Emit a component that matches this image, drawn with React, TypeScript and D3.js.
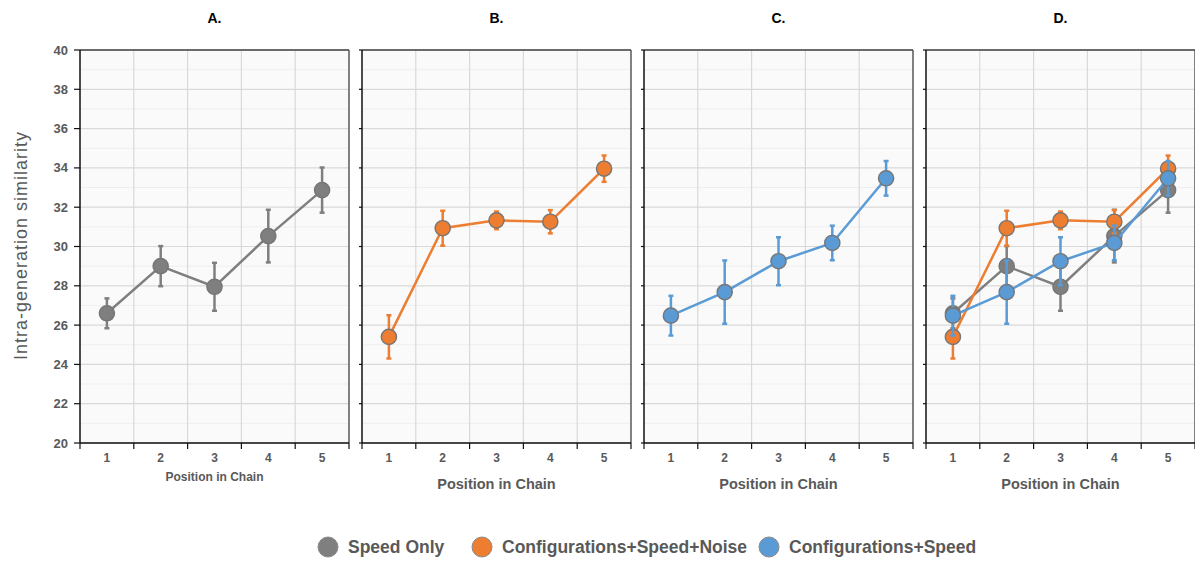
import React from "react";
import * as d3 from "d3";

const categories = ["1", "2", "3", "4", "5"];
const yTicks = [20, 22, 24, 26, 28, 30, 32, 34, 36, 38, 40];
const panelTitles = ["A.", "B.", "C.", "D."];

const speedOnly = [26.6, 29.0, 27.95, 30.53, 32.87];
const speedOnlyErr = [0.76, 1.02, 1.22, 1.34, 1.15];
const configSpeedNoise = [25.4, 30.93, 31.33, 31.26, 33.96];
const configSpeedNoiseErr = [1.1, 0.89, 0.45, 0.59, 0.67];
const configSpeed = [26.48, 27.68, 29.25, 30.18, 33.47];
const configSpeedErr = [1.01, 1.61, 1.22, 0.88, 0.88];

const seriesNames = ["Speed Only", "Configurations+Speed+Noise", "Configurations+Speed"];
const seriesColors = ["#7f7f7f", "#ed7d31", "#5b9bd5"];

const series = [
  { name: seriesNames[0], color: seriesColors[0], values: speedOnly, err: speedOnlyErr },
  { name: seriesNames[1], color: seriesColors[1], values: configSpeedNoise, err: configSpeedNoiseErr },
  { name: seriesNames[2], color: seriesColors[2], values: configSpeed, err: configSpeedErr },
];

const panelSeries = [[0], [1], [2], [0, 1, 2]];

const W = 1195;
const H = 563;
const panelLefts = [80, 362, 644, 926];
const panelW = 269;
const top = 50;
const bottom = 443;
const font = "'Liberation Sans', Arial, sans-serif";
const textGray = "#595959";

function Panel({ idx }: { idx: number }) {
  const x0 = panelLefts[idx];
  const x = d3.scaleBand<string>().domain(categories).range([x0, x0 + panelW]);
  const y = d3.scaleLinear().domain([20, 40]).range([bottom, top]);
  const minorTicks = d3.range(21, 40, 2);
  const bw = x.bandwidth();
  const cx = (c: string) => (x(c) as number) + bw / 2;
  const isA = idx === 0;
  return (
    <g>
      <rect x={x0} y={top} width={panelW} height={bottom - top} fill="#fafafa" />
      {minorTicks.map((t) => (
        <line key={"mn" + t} x1={x0} x2={x0 + panelW} y1={y(t)} y2={y(t)} stroke="#eeeeee" strokeWidth={1} />
      ))}
      {yTicks.map((t) => (
        <line key={"mj" + t} x1={x0} x2={x0 + panelW} y1={y(t)} y2={y(t)} stroke="#d9d9d9" strokeWidth={1.2} />
      ))}
      {categories.slice(1).map((c) => (
        <line key={"v" + c} x1={x(c)} x2={x(c)} y1={top} y2={bottom} stroke="#d9d9d9" strokeWidth={1.2} />
      ))}
      <line x1={x0} x2={x0 + panelW} y1={top} y2={top} stroke="#404040" strokeWidth={1.3} />
      <line x1={x0 + panelW} x2={x0 + panelW} y1={top} y2={bottom} stroke="#404040" strokeWidth={1.3} />
      <line x1={x0} x2={x0} y1={top} y2={bottom} stroke="#111" strokeWidth={1.5} />
      <line x1={x0} x2={x0 + panelW} y1={bottom} y2={bottom} stroke="#111" strokeWidth={1.5} />
      {categories.map((c) => (
        <line key={"xt" + c} x1={x(c)} x2={x(c)} y1={bottom} y2={bottom + 6} stroke="#111" strokeWidth={1.2} />
      ))}
      <line x1={x0 + panelW} x2={x0 + panelW} y1={bottom} y2={bottom + 6} stroke="#111" strokeWidth={1.2} />
      {categories.map((c) => (
        <text key={"xl" + c} x={cx(c)} y={462} textAnchor="middle" fontFamily={font} fontWeight="bold" fontSize={12} fill={textGray}>
          {c}
        </text>
      ))}
      <text x={x0 + panelW / 2} y={isA ? 481 : 489} textAnchor="middle" fontFamily={font} fontWeight="bold" fontSize={isA ? 12 : 14.5} fill={textGray}>
        Position in Chain
      </text>
      {yTicks.map((t) => (
        <line key={"yt" + t} x1={x0 - (isA ? 6 : 3)} x2={x0} y1={y(t)} y2={y(t)} stroke="#111" strokeWidth={1.2} />
      ))}
      {isA &&
        yTicks.map((t) => (
          <text key={"yl" + t} x={68} y={y(t) + 4.5} textAnchor="end" fontFamily={font} fontWeight="bold" fontSize={13} fill={textGray}>
            {t}
          </text>
        ))}
      <text x={x0 + panelW / 2} y={23} textAnchor="middle" fontFamily={font} fontWeight="bold" fontSize={14} fill="#000">
        {panelTitles[idx]}
      </text>
      {panelSeries[idx].map((si) => {
        const s = series[si];
        const line = d3
          .line<number>()
          .x((_, i) => cx(categories[i]))
          .y((v) => y(v));
        return (
          <g key={"s" + si}>
            <path d={line(s.values) || ""} fill="none" stroke={s.color} strokeWidth={2.5} />
            {s.values.map((v, i) => {
              const px = cx(categories[i]);
              const yt = y(v + s.err[i]);
              const yb = y(v - s.err[i]);
              return (
                <g key={"e" + i}>
                  <line x1={px} x2={px} y1={yt} y2={yb} stroke={s.color} strokeWidth={2.5} />
                  <line x1={px - 2.5} x2={px + 2.5} y1={yt} y2={yt} stroke={s.color} strokeWidth={2.5} />
                  <line x1={px - 2.5} x2={px + 2.5} y1={yb} y2={yb} stroke={s.color} strokeWidth={2.5} />
                </g>
              );
            })}
            {s.values.map((v, i) => (
              <circle key={"c" + i} cx={cx(categories[i])} cy={y(v)} r={7.6} fill={s.color} stroke="#767676" strokeWidth={1.4} />
            ))}
          </g>
        );
      })}
    </g>
  );
}

export default function App() {
  const legendX = [328, 482, 769];
  return (
    <svg width={W} height={H} style={{ position: "absolute", left: 0, top: 0, background: "#fff" }}>
      <rect x={0} y={0} width={W} height={H} fill="#fff" />
      {panelTitles.map((_, i) => (
        <Panel key={i} idx={i} />
      ))}
      <text
        transform={`translate(27,246) rotate(-90)`}
        textAnchor="middle"
        fontFamily={font}
        fontSize={18}
        textLength={228}
        lengthAdjust="spacing"
        fill={textGray}
      >
        Intra-generation similarity
      </text>
      {series.map((s, i) => (
        <g key={"lg" + i}>
          <circle cx={legendX[i]} cy={547} r={10} fill={s.color} stroke="#8a8a8a" strokeWidth={1} />
          <text x={legendX[i] + 20} y={553} fontFamily={font} fontWeight="bold" fontSize={17.5} fill={textGray}>
            {s.name}
          </text>
        </g>
      ))}
    </svg>
  );
}
